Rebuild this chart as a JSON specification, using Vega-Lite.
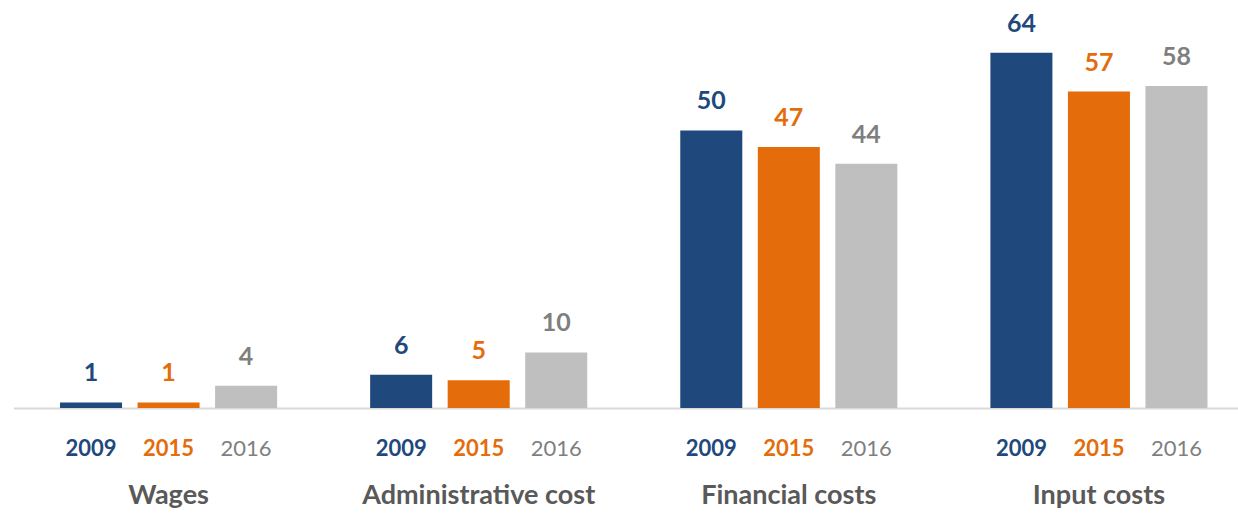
{
  "$schema": "https://vega.github.io/schema/vega-lite/v6.json",
  "width": 1238,
  "height": 408,
  "autosize": {"type": "none"},
  "padding": {"left": 0, "top": 0, "right": 0, "bottom": 109},
  "background": "white",
  "config": {"view": {"stroke": null}, "font": "Lato"},
  "data": {"values": [
    {"category": "Wages", "year": "2009", "value": 1},
    {"category": "Wages", "year": "2015", "value": 1},
    {"category": "Wages", "year": "2016", "value": 4},
    {"category": "Administrative cost", "year": "2009", "value": 6},
    {"category": "Administrative cost", "year": "2015", "value": 5},
    {"category": "Administrative cost", "year": "2016", "value": 10},
    {"category": "Financial costs", "year": "2009", "value": 50},
    {"category": "Financial costs", "year": "2015", "value": 47},
    {"category": "Financial costs", "year": "2016", "value": 44},
    {"category": "Input costs", "year": "2009", "value": 64},
    {"category": "Input costs", "year": "2015", "value": 57},
    {"category": "Input costs", "year": "2016", "value": 58}
  ]},
  "encoding": {
    "x": {
      "field": "category", "type": "nominal",
      "sort": ["Wages", "Administrative cost", "Financial costs", "Input costs"],
      "scale": {"range": [13.5, 1254], "paddingInner": 0, "paddingOuter": 0},
      "axis": {"title": null, "ticks": false, "grid": false, "domainColor": "#d9d9d9", "domainWidth": 2,
               "labelFont": "Lato", "labelFontWeight": "bold", "labelFontSize": 27, "labelColor": "#595959",
               "labelPadding": 74, "labelAngle": 0, "labelLimit": 0}
    },
    "xOffset": {"field": "year", "type": "nominal", "sort": ["2009", "2015", "2016"],
                "scale": {"paddingInner": 0.2, "paddingOuter": 0.6}},
    "y": {"field": "value", "type": "quantitative", "scale": {"domain": [0, 73.5], "nice": false}, "axis": null}
  },
  "layer": [
    {
      "mark": {"type": "bar"},
      "encoding": {"color": {"field": "year", "type": "nominal",
        "scale": {"domain": ["2009", "2015", "2016"], "range": ["#1f497d", "#e46c0a", "#bfbfbf"]}, "legend": null}}
    },
    {
      "mark": {"type": "text", "baseline": "alphabetic", "dy": -21, "fontSize": 25, "fontWeight": "bold", "font": "Lato"},
      "encoding": {
        "text": {"field": "value", "type": "quantitative"},
        "color": {"field": "year", "type": "nominal",
          "scale": {"domain": ["2009", "2015", "2016"], "range": ["#1f497d", "#e46c0a", "#7f7f7f"]}, "legend": null}
      }
    },
    {
      "transform": [{"filter": "datum.year !== '2016'"}],
      "mark": {"type": "text", "baseline": "middle", "dy": 41, "fontSize": 22, "fontWeight": "bold", "font": "Lato"},
      "encoding": {
        "y": {"datum": 0},
        "text": {"field": "year", "type": "nominal"},
        "color": {"field": "year", "type": "nominal",
          "scale": {"domain": ["2009", "2015", "2016"], "range": ["#1f497d", "#e46c0a", "#7f7f7f"]}, "legend": null}
      }
    },
    {
      "transform": [{"filter": "datum.year === '2016'"}],
      "mark": {"type": "text", "baseline": "middle", "dy": 41, "fontSize": 22, "fontWeight": "normal", "font": "Lato", "color": "#7f7f7f"},
      "encoding": {
        "y": {"datum": 0},
        "text": {"field": "year", "type": "nominal"}
      }
    }
  ],
  "resolve": {"scale": {"color": "independent"}}
}
